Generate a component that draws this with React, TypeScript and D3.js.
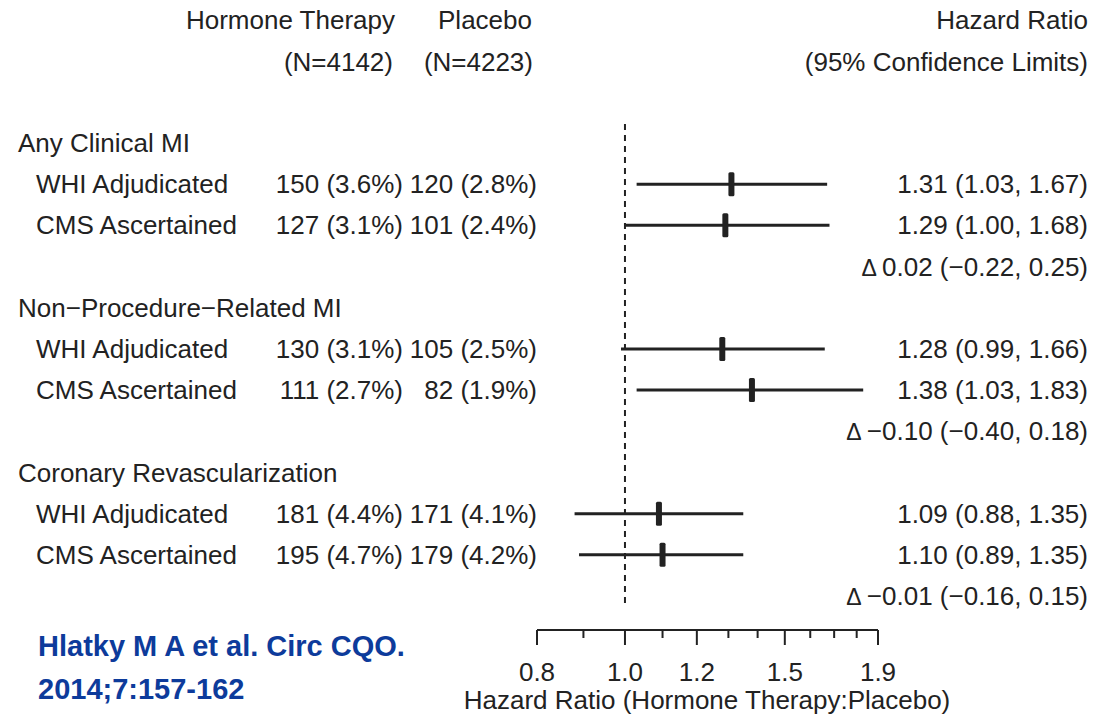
import React, { useEffect, useRef } from 'react';
import * as d3 from 'd3';

const sections = ['Any Clinical MI', 'Non\u2212Procedure\u2212Related MI', 'Coronary Revascularization'];
const sources = ['WHI Adjudicated', 'CMS Ascertained'];
const hormoneCounts = ['150 (3.6%)', '127 (3.1%)', '130 (3.1%)', '111 (2.7%)', '181 (4.4%)', '195 (4.7%)'];
const placeboCounts = ['120 (2.8%)', '101 (2.4%)', '105 (2.5%)', '82 (1.9%)', '171 (4.1%)', '179 (4.2%)'];
const hr = [1.31, 1.29, 1.28, 1.38, 1.09, 1.10];
const lower = [1.03, 1.00, 0.99, 1.03, 0.88, 0.89];
const upper = [1.67, 1.68, 1.66, 1.83, 1.35, 1.35];
const deltas = ['0.02 (\u22120.22, 0.25)', '\u22120.10 (\u22120.40, 0.18)', '\u22120.01 (\u22120.16, 0.15)'];
const majorTicks = [0.8, 1.0, 1.2, 1.5, 1.9];
const minorTicks = [0.9, 1.1, 1.3, 1.4, 1.6, 1.7, 1.8];

const W = 1094;
const H = 714;

const App: React.FC = () => {
  const svgRef = useRef<SVGSVGElement>(null);

  useEffect(() => {
    if (!svgRef.current) return;
    document.body.style.margin = '0';
    const svg = d3.select(svgRef.current);
    svg.selectAll('*').remove();

    const font = 'Liberation Sans, Arial, Helvetica, sans-serif';
    const ink = '#222';
    const fs = 26;

    const x = d3.scaleLog().domain([0.8, 1.9]).range([537, 878]);
    const row = d3.scalePoint<number>().domain(d3.range(12)).range([143, 596]);

    const text = (tx: number, ty: number, s: string, anchor = 'start') =>
      svg.append('text')
        .attr('x', tx)
        .attr('y', ty)
        .attr('dy', '0.35em')
        .attr('text-anchor', anchor)
        .attr('font-family', font)
        .attr('font-size', fs)
        .attr('fill', ink)
        .text(s);

    // headers
    text(395, 20, 'Hormone Therapy', 'end');
    text(393, 62, '(N=4142)', 'end');
    text(532, 20, 'Placebo', 'end');
    text(533, 62, '(N=4223)', 'end');
    text(1088, 20, 'Hazard Ratio', 'end');
    text(1088, 62, '(95% Confidence Limits)', 'end');

    // reference line at HR = 1
    svg.append('line')
      .attr('x1', x(1)).attr('x2', x(1))
      .attr('y1', 124).attr('y2', 606)
      .attr('stroke', ink)
      .attr('stroke-width', 2)
      .attr('stroke-dasharray', '6,5');

    sections.forEach((sec, si) => {
      const base = si * 4;
      text(18, row(base)!, sec);
      sources.forEach((src, j) => {
        const i = si * 2 + j;
        const y = row(base + 1 + j)!;
        text(36, y, src);
        text(403, y, hormoneCounts[i], 'end');
        text(537, y, placeboCounts[i], 'end');
        text(1088, y, `${hr[i].toFixed(2)} (${lower[i].toFixed(2)}, ${upper[i].toFixed(2)})`, 'end');

        svg.append('line')
          .attr('x1', x(lower[i])).attr('x2', x(upper[i]))
          .attr('y1', y).attr('y2', y)
          .attr('stroke', ink)
          .attr('stroke-width', 3);
        svg.append('rect')
          .attr('x', x(hr[i]) - 3)
          .attr('y', y - 12)
          .attr('width', 6)
          .attr('height', 24)
          .attr('rx', 1.5)
          .attr('fill', ink);
      });
      const dy = row(base + 3)!;
      const t = text(1088, dy, '', 'end');
      t.append('tspan').attr('font-size', 23).text('\u0394 ');
      t.append('tspan').text(deltas[si]);
    });

    // axis
    const axisY = 630;
    const axis = svg.append('g').attr('transform', `translate(0,${axisY})`);
    axis.append('line')
      .attr('x1', x(0.8)).attr('x2', x(1.9))
      .attr('stroke', ink).attr('stroke-width', 2);
    axis.selectAll('line.major')
      .data(majorTicks)
      .enter()
      .append('line')
      .attr('class', 'major')
      .attr('x1', d => x(d)).attr('x2', d => x(d))
      .attr('y1', 0).attr('y2', 15)
      .attr('stroke', ink).attr('stroke-width', 2);
    axis.selectAll('line.minor')
      .data(minorTicks)
      .enter()
      .append('line')
      .attr('class', 'minor')
      .attr('x1', d => x(d)).attr('x2', d => x(d))
      .attr('y1', 0).attr('y2', 8)
      .attr('stroke', ink).attr('stroke-width', 2);
    majorTicks.forEach(d => text(x(d), 672, d.toFixed(1), 'middle'));
    text(707, 700, 'Hazard Ratio (Hormone Therapy:Placebo)', 'middle');

    // citation
    const cite = ['Hlatky M A et al. Circ CQO.', '2014;7:157-162'];
    cite.forEach((c, i) => {
      svg.append('text')
        .attr('x', 38)
        .attr('y', 646 + i * 43)
        .attr('dy', '0.35em')
        .attr('font-family', font)
        .attr('font-weight', 'bold')
        .attr('font-size', 29)
        .attr('fill', '#0d3b9b')
        .text(c);
    });
  }, []);

  return <svg ref={svgRef} width={W} height={H} style={{ display: 'block', background: '#fff' }} />;
};

export default App;
